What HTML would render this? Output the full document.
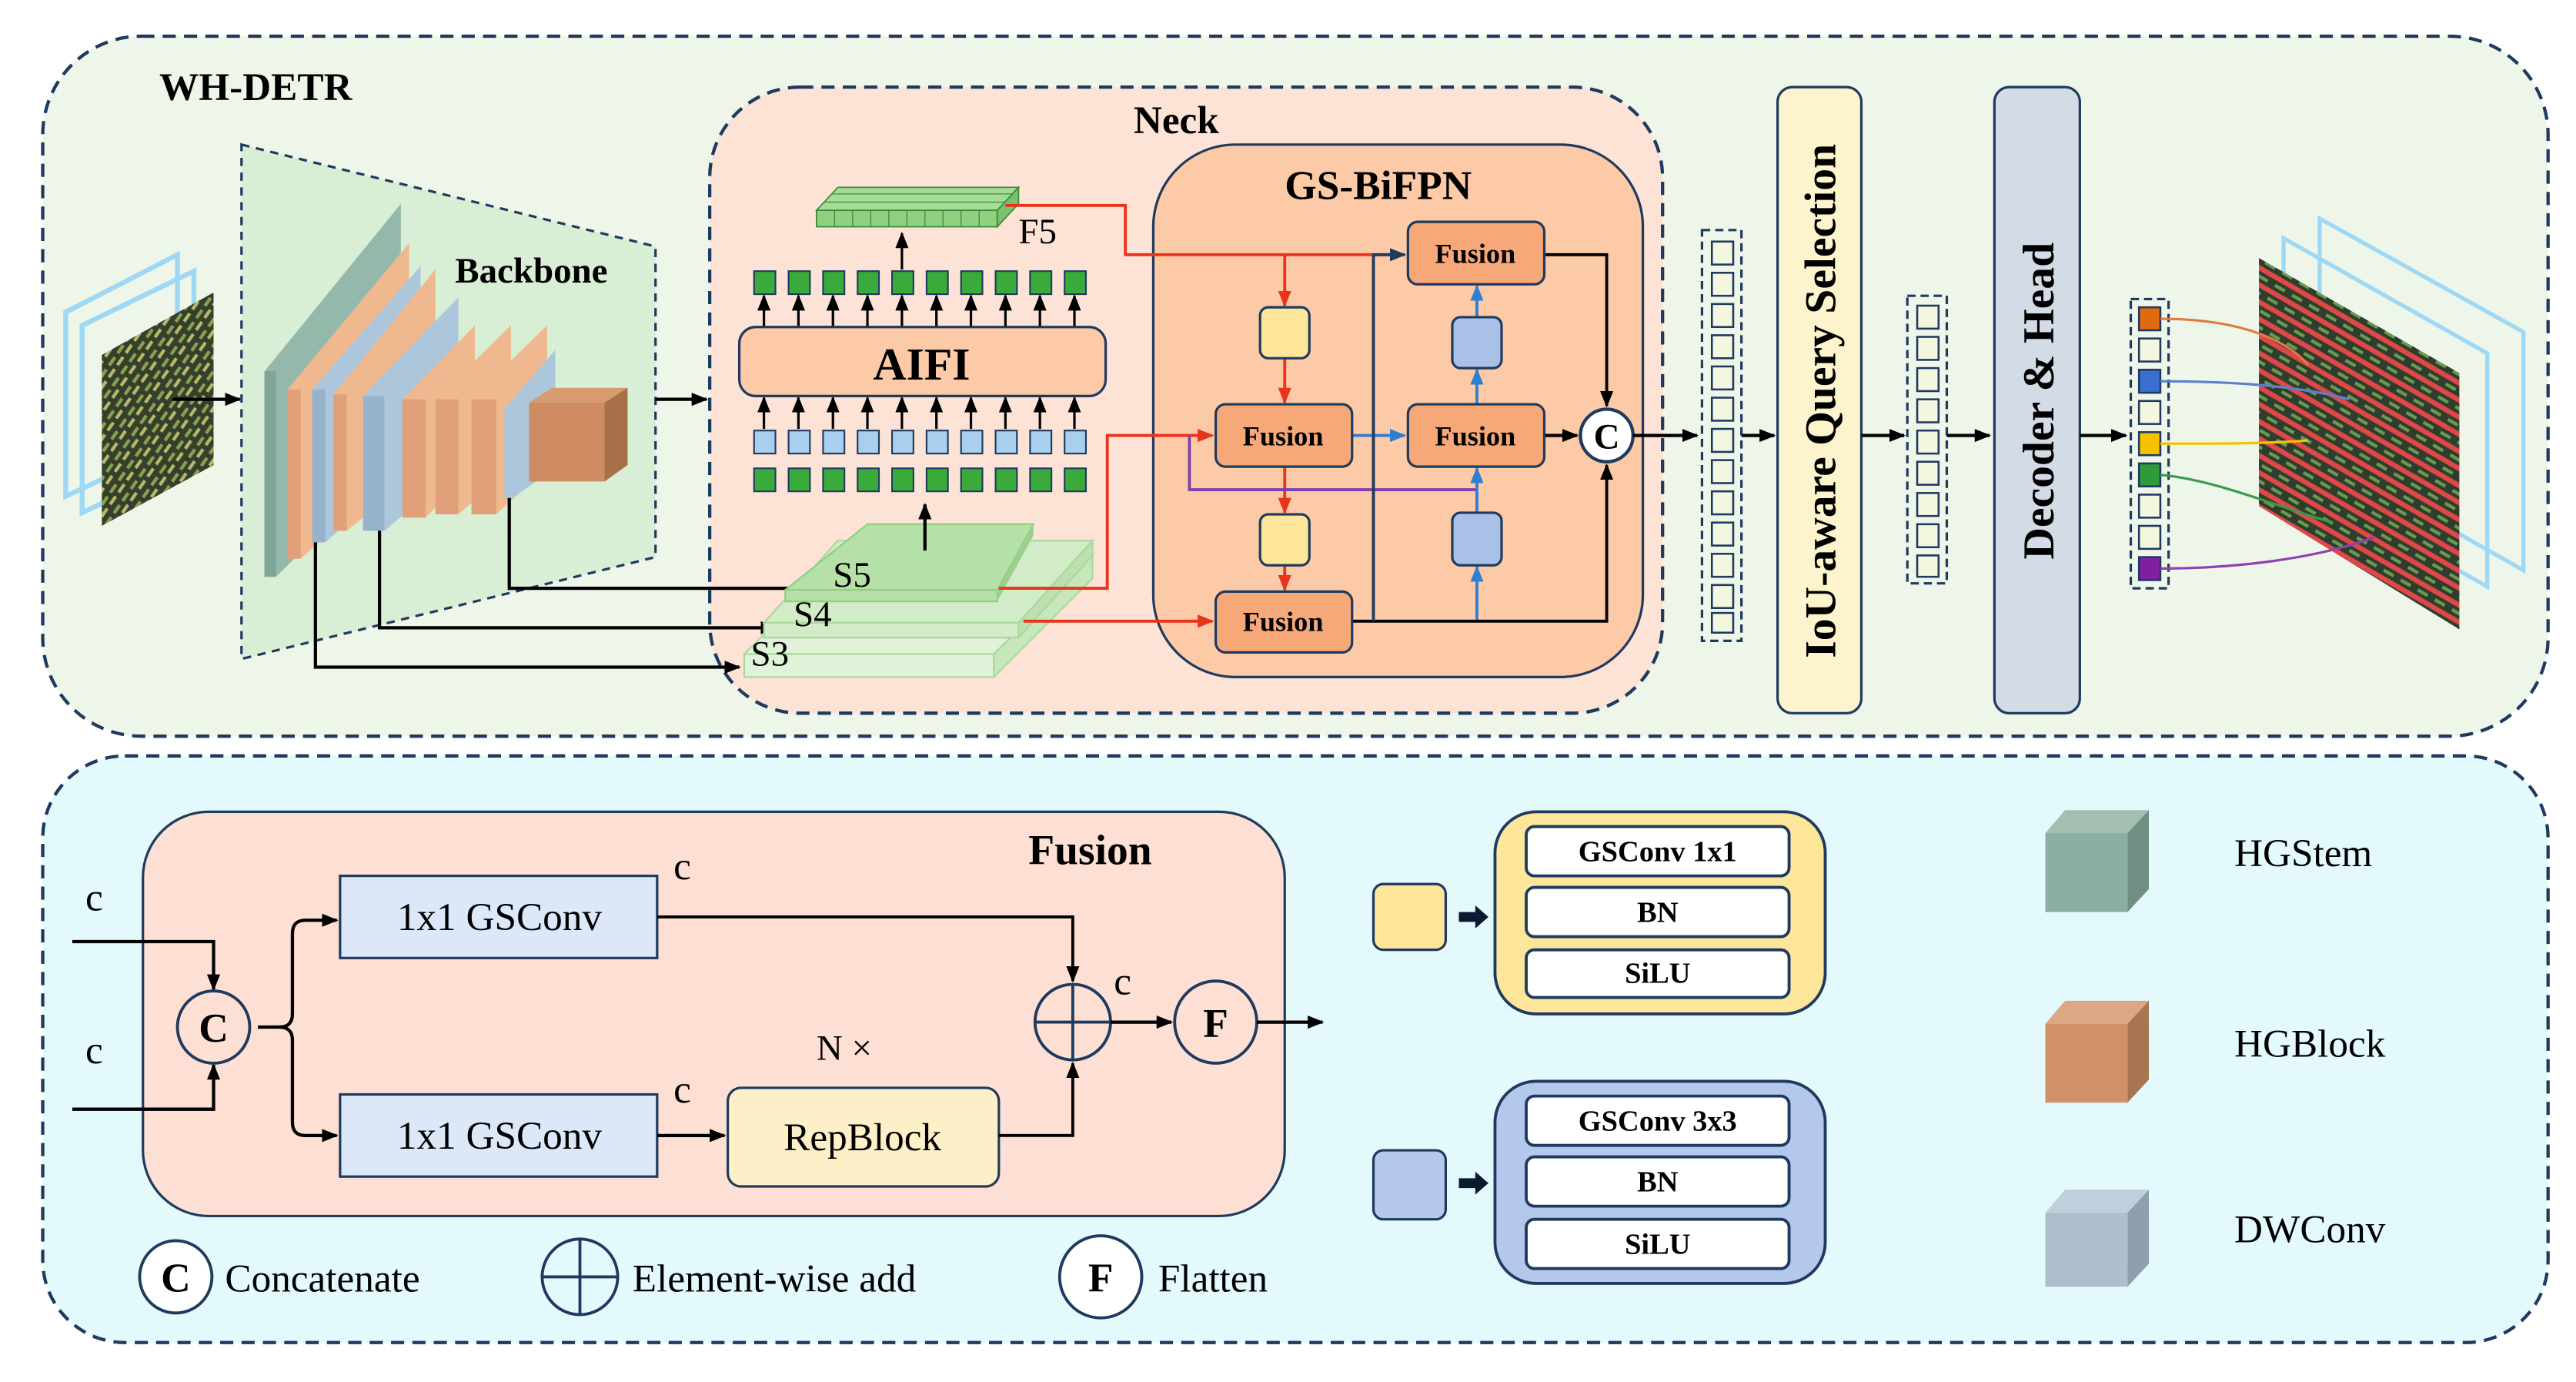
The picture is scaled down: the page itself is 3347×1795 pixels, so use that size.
<!DOCTYPE html>
<html><head><meta charset="utf-8"><style>html,body{margin:0;padding:0;background:#fff}svg{display:block;font-family:"Liberation Serif",serif}svg text{font-family:"Liberation Serif",serif}</style></head>
<body>
<svg width="3347" height="1795" viewBox="0 0 1568 841" preserveAspectRatio="none" xmlns="http://www.w3.org/2000/svg" font-family="Liberation Serif, serif">
<defs>
<marker id="ak" markerUnits="userSpaceOnUse" markerWidth="10" markerHeight="10" refX="9" refY="5" orient="auto"><path d="M0,1 L10,5 L0,9 z" fill="#000"/></marker>
<marker id="ar" markerUnits="userSpaceOnUse" markerWidth="10" markerHeight="10" refX="9" refY="5" orient="auto"><path d="M0,1 L10,5 L0,9 z" fill="#e8341c"/></marker>
<marker id="ab" markerUnits="userSpaceOnUse" markerWidth="10" markerHeight="10" refX="9" refY="5" orient="auto"><path d="M0,1 L10,5 L0,9 z" fill="#2f7fd0"/></marker>
<marker id="an" markerUnits="userSpaceOnUse" markerWidth="10" markerHeight="10" refX="9" refY="5" orient="auto"><path d="M0,1 L10,5 L0,9 z" fill="#1f3a5f"/></marker>
<pattern id="leaf" width="9" height="9" patternUnits="userSpaceOnUse" patternTransform="rotate(-55)"><rect width="9" height="9" fill="#34402c"/><rect y="1" width="6" height="2" fill="#8aa050"/><rect x="3" y="5" width="6" height="2" fill="#b8b868"/></pattern>
<pattern id="red" width="12" height="9" patternUnits="userSpaceOnUse" patternTransform="rotate(30)"><rect width="12" height="9" fill="#2f3d2c"/><rect y="1" width="12" height="3" fill="#e04848"/><rect x="2" y="6" width="7" height="2" fill="#6a9a50"/></pattern>
</defs>

<rect x="26" y="22" width="1525" height="426" rx="60" fill="#eef6ea" stroke="#1f3a5f" stroke-width="2" stroke-dasharray="8 5"/>
<text x="97" y="61" font-size="24" font-weight="bold">WH-DETR</text>

<polygon points="40,190 108,155 108,270 40,302" fill="none" stroke="#9ed8f5" stroke-width="3"/>
<polygon points="50,198 118,165 118,280 50,312" fill="none" stroke="#9ed8f5" stroke-width="3"/>
<polygon points="62,216 130,178 130,283 62,320" fill="url(#leaf)"/>
<line x1="105" y1="243" x2="146" y2="243" stroke="#000" stroke-width="2" marker-end="url(#ak)"/>

<polygon points="147,88 399,150 399,339 147,401" fill="#d8eed5" stroke="#1f3a5f" stroke-width="1.5" stroke-dasharray="5 4"/>
<text x="277" y="172" font-size="22" font-weight="bold">Backbone</text>
<g opacity="0.92">
<polygon points="161,226 244,124 244,276 168,351 161,351" fill="#8fb5a8"/>
<polygon points="175,237 249,148 249,282 183,340 175,340" fill="#f2b48a"/>
<polygon points="190,237 256,162 256,280 198,330 190,330" fill="#a9c4dc"/>
<polygon points="203,240 265,164 265,280 211,323 203,323" fill="#f2b48a"/>
<polygon points="221,241 279,181 279,285 234,323 221,323" fill="#a9c4dc"/>
<polygon points="245,243 289,198 289,285 259,315 245,315" fill="#f2b48a"/>
<polygon points="265,243 311,198 311,285 279,313 265,313" fill="#f2b48a"/>
<polygon points="287,243 333,198 333,285 302,313 287,313" fill="#f2b48a"/>
<polygon points="307,249 338,213 338,285 312,303 307,303" fill="#a9c4dc"/>
</g>
<rect x="161" y="226" width="7" height="125" fill="#7ea596"/>
<rect x="175" y="237" width="8" height="103" fill="#e0a07a"/>
<rect x="190" y="237" width="8" height="93" fill="#97b3cc"/>
<rect x="203" y="240" width="8" height="83" fill="#e0a07a"/>
<rect x="221" y="241" width="13" height="82" fill="#97b3cc"/>
<rect x="245" y="243" width="14" height="72" fill="#e0a07a"/>
<rect x="265" y="243" width="14" height="70" fill="#e0a07a"/>
<rect x="287" y="243" width="15" height="70" fill="#e0a07a"/>
<polygon points="322,245 336,236 382,236 368,245" fill="#d89a70"/>
<polygon points="368,245 382,236 382,283 368,293" fill="#a87048"/>
<rect x="322" y="245" width="46" height="48" fill="#cf8c62"/>
<line x1="399" y1="243" x2="430" y2="243" stroke="#000" stroke-width="2" marker-end="url(#ak)"/>

<rect x="432" y="53" width="580" height="381" rx="55" fill="#fde3d6" stroke="#1f3a5f" stroke-width="2" stroke-dasharray="8 5"/>
<text x="690" y="81" font-size="24" font-weight="bold">Neck</text>
<rect x="702" y="88" width="298" height="324" rx="50" fill="#fccaa6" stroke="#1f3a5f" stroke-width="1.5"/>
<text x="782" y="121" font-size="25" font-weight="bold">GS-BiFPN</text>

<polyline points="310,303 310,358 495,358" fill="none" stroke="#000" stroke-width="2" marker-end="url(#ak)"/>
<polyline points="231,323 231,382 472,382" fill="none" stroke="#000" stroke-width="2" marker-end="url(#ak)"/>
<polyline points="192,330 192,406 450,406" fill="none" stroke="#000" stroke-width="2" marker-end="url(#ak)"/>

<polygon points="453,398 513,338 665,338 605,398" fill="#e0f2d8" stroke="#a8d89a"/>
<rect x="453" y="398" width="152" height="14" fill="#e0f2d8" stroke="#a8d89a"/>
<polygon points="605,398 665,338 665,352 605,412" fill="#c8e6bc" stroke="#a8d89a"/>
<polygon points="465,379 510,329 665,329 620,379" fill="#d2ecc7" stroke="#a8d89a"/>
<rect x="465" y="379" width="155" height="9" fill="#d2ecc7" stroke="#a8d89a"/>
<polygon points="620,379 665,329 665,338 620,388" fill="#bde0b0" stroke="#a8d89a"/>
<polygon points="478,359 528,319 629,319 607,359" fill="#b5e0a8" stroke="#8fcf80"/>
<rect x="478" y="359" width="129" height="7" fill="#b5e0a8" stroke="#8fcf80"/>
<polygon points="607,359 629,319 629,326 607,366" fill="#9ccf8c"/>
<text x="507" y="357" font-size="22">S5</text>
<text x="483" y="381" font-size="22">S4</text>
<text x="457" y="405" font-size="22">S3</text>
<line x1="563" y1="335" x2="563" y2="307" stroke="#000" stroke-width="2" marker-end="url(#ak)"/>

<g stroke="#1f3a5f" stroke-width="1">
<g fill="#3aab3a">
<rect x="459" y="165" width="13" height="14"/><rect x="480" y="165" width="13" height="14"/><rect x="501" y="165" width="13" height="14"/><rect x="522" y="165" width="13" height="14"/><rect x="543" y="165" width="13" height="14"/><rect x="564" y="165" width="13" height="14"/><rect x="585" y="165" width="13" height="14"/><rect x="606" y="165" width="13" height="14"/><rect x="627" y="165" width="13" height="14"/><rect x="648" y="165" width="13" height="14"/>
<rect x="459" y="285" width="13" height="14"/><rect x="480" y="285" width="13" height="14"/><rect x="501" y="285" width="13" height="14"/><rect x="522" y="285" width="13" height="14"/><rect x="543" y="285" width="13" height="14"/><rect x="564" y="285" width="13" height="14"/><rect x="585" y="285" width="13" height="14"/><rect x="606" y="285" width="13" height="14"/><rect x="627" y="285" width="13" height="14"/><rect x="648" y="285" width="13" height="14"/>
</g>
<g fill="#a9cfee">
<rect x="459" y="262" width="13" height="14"/><rect x="480" y="262" width="13" height="14"/><rect x="501" y="262" width="13" height="14"/><rect x="522" y="262" width="13" height="14"/><rect x="543" y="262" width="13" height="14"/><rect x="564" y="262" width="13" height="14"/><rect x="585" y="262" width="13" height="14"/><rect x="606" y="262" width="13" height="14"/><rect x="627" y="262" width="13" height="14"/><rect x="648" y="262" width="13" height="14"/>
</g>
</g>
<g stroke="#000" stroke-width="1.5" marker-end="url(#ak)">
<line x1="465" y1="199" x2="465" y2="180"/><line x1="486" y1="199" x2="486" y2="180"/><line x1="507" y1="199" x2="507" y2="180"/><line x1="528" y1="199" x2="528" y2="180"/><line x1="549" y1="199" x2="549" y2="180"/><line x1="570" y1="199" x2="570" y2="180"/><line x1="591" y1="199" x2="591" y2="180"/><line x1="612" y1="199" x2="612" y2="180"/><line x1="633" y1="199" x2="633" y2="180"/><line x1="654" y1="199" x2="654" y2="180"/>
<line x1="465" y1="261" x2="465" y2="242"/><line x1="486" y1="261" x2="486" y2="242"/><line x1="507" y1="261" x2="507" y2="242"/><line x1="528" y1="261" x2="528" y2="242"/><line x1="549" y1="261" x2="549" y2="242"/><line x1="570" y1="261" x2="570" y2="242"/><line x1="591" y1="261" x2="591" y2="242"/><line x1="612" y1="261" x2="612" y2="242"/><line x1="633" y1="261" x2="633" y2="242"/><line x1="654" y1="261" x2="654" y2="242"/>
<line x1="549" y1="164" x2="549" y2="142"/>
</g>
<rect x="450" y="199" width="223" height="42" rx="10" fill="#fccaa6" stroke="#1f3a5f" stroke-width="1.5"/>
<text x="561" y="231" font-size="28" font-weight="bold" text-anchor="middle">AIFI</text>

<polygon points="497,128 510,114 620,114 607,128" fill="#a6dc98" stroke="#3a8a3a" stroke-width="0.8"/>
<rect x="497" y="128" width="110" height="10" fill="#8fd17f" stroke="#3a8a3a" stroke-width="0.8"/>
<polygon points="607,128 620,114 620,124 607,138" fill="#7cbf6c" stroke="#3a8a3a" stroke-width="0.8"/>
<g stroke="#3a8a3a" stroke-width="0.6"><line x1="508" y1="128" x2="508" y2="138"/><line x1="519" y1="128" x2="519" y2="138"/><line x1="530" y1="128" x2="530" y2="138"/><line x1="541" y1="128" x2="541" y2="138"/><line x1="552" y1="128" x2="552" y2="138"/><line x1="563" y1="128" x2="563" y2="138"/><line x1="574" y1="128" x2="574" y2="138"/><line x1="585" y1="128" x2="585" y2="138"/><line x1="596" y1="128" x2="596" y2="138"/><line x1="502" y1="123" x2="612" y2="123"/><line x1="506" y1="118" x2="616" y2="118"/></g>
<text x="620" y="148" font-size="22">F5</text>

<polyline points="612,125 685,125 685,155 855,155" fill="none" stroke="#e8341c" stroke-width="1.8" marker-end="url(#ar)"/>
<line x1="782" y1="155" x2="782" y2="186" stroke="#e8341c" stroke-width="1.8" marker-end="url(#ar)"/>
<polyline points="608,358 674,358 674,265 738,265" fill="none" stroke="#e8341c" stroke-width="1.8" marker-end="url(#ar)"/>
<line x1="623" y1="378" x2="738" y2="378" stroke="#e8341c" stroke-width="1.8" marker-end="url(#ar)"/>
<line x1="782" y1="218" x2="782" y2="245" stroke="#e8341c" stroke-width="1.8" marker-end="url(#ar)"/>
<line x1="782" y1="284" x2="782" y2="312" stroke="#e8341c" stroke-width="1.8" marker-end="url(#ar)"/>
<line x1="782" y1="344" x2="782" y2="359" stroke="#e8341c" stroke-width="1.8" marker-end="url(#ar)"/>
<polyline points="724,265 724,298 899,298" fill="none" stroke="#8040b0" stroke-width="1.8"/>
<line x1="823" y1="265" x2="855" y2="265" stroke="#2f7fd0" stroke-width="1.8" marker-end="url(#ab)"/>
<line x1="899" y1="378" x2="899" y2="345" stroke="#2f7fd0" stroke-width="1.8" marker-end="url(#ab)"/>
<line x1="899" y1="312" x2="899" y2="285" stroke="#2f7fd0" stroke-width="1.8" marker-end="url(#ab)"/>
<line x1="899" y1="246" x2="899" y2="225" stroke="#2f7fd0" stroke-width="1.8" marker-end="url(#ab)"/>
<line x1="899" y1="193" x2="899" y2="174" stroke="#2f7fd0" stroke-width="1.8" marker-end="url(#ab)"/>
<polyline points="823,378 978,378 978,283" fill="none" stroke="#000" stroke-width="1.8" marker-end="url(#ak)"/>
<polyline points="836,378 836,155 855,155" fill="none" stroke="#1f3a5f" stroke-width="1.8" marker-end="url(#an)"/>
<polyline points="940,155 978,155 978,247" fill="none" stroke="#000" stroke-width="1.8" marker-end="url(#ak)"/>
<line x1="940" y1="265" x2="960" y2="265" stroke="#000" stroke-width="2" marker-end="url(#ak)"/>

<g stroke="#1f3a5f" stroke-width="1.5">
<rect x="767" y="187" width="30" height="31" rx="5" fill="#fde59a"/>
<rect x="767" y="313" width="30" height="31" rx="5" fill="#fde59a"/>
<rect x="884" y="193" width="30" height="31" rx="5" fill="#a9c1e6"/>
<rect x="884" y="312" width="30" height="32" rx="5" fill="#a9c1e6"/>
<rect x="740" y="246" width="83" height="38" rx="6" fill="#f6a878"/>
<rect x="740" y="360" width="83" height="37" rx="6" fill="#f6a878"/>
<rect x="857" y="246" width="83" height="38" rx="6" fill="#f6a878"/>
<rect x="857" y="135" width="83" height="38" rx="6" fill="#f6a878"/>
</g>
<g font-size="17" font-weight="bold" text-anchor="middle">
<text x="781" y="271">Fusion</text><text x="781" y="384">Fusion</text><text x="898" y="271">Fusion</text><text x="898" y="160">Fusion</text>
</g>
<circle cx="978" cy="265" r="16" fill="#fff" stroke="#1f3a5f" stroke-width="2"/>
<text x="978" y="273" font-size="22" font-weight="bold" text-anchor="middle">C</text>
<line x1="994" y1="265" x2="1033" y2="265" stroke="#000" stroke-width="2" marker-end="url(#ak)"/>

<rect x="1036" y="140" width="24" height="250" fill="none" stroke="#1f3a5f" stroke-width="1.5" stroke-dasharray="5 3"/>
<g fill="#f3f7e0" stroke="#1f3a5f" stroke-width="1.2">
<rect x="1042" y="147" width="13" height="14"/><rect x="1042" y="166" width="13" height="14"/><rect x="1042" y="185" width="13" height="14"/><rect x="1042" y="204" width="13" height="14"/><rect x="1042" y="223" width="13" height="14"/><rect x="1042" y="242" width="13" height="14"/><rect x="1042" y="261" width="13" height="14"/><rect x="1042" y="280" width="13" height="14"/><rect x="1042" y="299" width="13" height="14"/><rect x="1042" y="318" width="13" height="14"/><rect x="1042" y="337" width="13" height="14"/><rect x="1042" y="356" width="13" height="14"/><rect x="1042" y="373" width="13" height="12"/>
</g>
<line x1="1060" y1="265" x2="1080" y2="265" stroke="#000" stroke-width="2" marker-end="url(#ak)"/>
<rect x="1082" y="53" width="51" height="381" rx="9" fill="#fdf3cc" stroke="#1f3a5f" stroke-width="1.5"/>
<text transform="translate(1117,244) rotate(-90)" font-size="27" font-weight="bold" text-anchor="middle">IoU-aware Query Selection</text>
<line x1="1133" y1="265" x2="1159" y2="265" stroke="#000" stroke-width="2" marker-end="url(#ak)"/>
<rect x="1161" y="180" width="24" height="175" fill="none" stroke="#1f3a5f" stroke-width="1.5" stroke-dasharray="5 3"/>
<g fill="#f3f7e0" stroke="#1f3a5f" stroke-width="1.2">
<rect x="1167" y="186" width="13" height="14"/><rect x="1167" y="205" width="13" height="14"/><rect x="1167" y="224" width="13" height="14"/><rect x="1167" y="243" width="13" height="14"/><rect x="1167" y="262" width="13" height="14"/><rect x="1167" y="281" width="13" height="14"/><rect x="1167" y="300" width="13" height="14"/><rect x="1167" y="319" width="13" height="14"/><rect x="1167" y="338" width="13" height="13"/>
</g>
<line x1="1185" y1="265" x2="1211" y2="265" stroke="#000" stroke-width="2" marker-end="url(#ak)"/>
<rect x="1214" y="53" width="52" height="381" rx="9" fill="#d3dbe6" stroke="#1f3a5f" stroke-width="1.5"/>
<text transform="translate(1250,244) rotate(-90)" font-size="27" font-weight="bold" text-anchor="middle">Decoder &amp; Head</text>
<line x1="1266" y1="265" x2="1294" y2="265" stroke="#000" stroke-width="2" marker-end="url(#ak)"/>
<rect x="1297" y="182" width="23" height="176" fill="none" stroke="#1f3a5f" stroke-width="1.5" stroke-dasharray="5 3"/>
<g stroke="#1f3a5f" stroke-width="1.2">
<rect x="1302" y="187" width="13" height="14" fill="#e06a10"/><rect x="1302" y="206" width="13" height="14" fill="#f3f7e0"/><rect x="1302" y="225" width="13" height="14" fill="#3a6fd0"/><rect x="1302" y="244" width="13" height="14" fill="#f3f7e0"/><rect x="1302" y="263" width="13" height="14" fill="#f5c200"/><rect x="1302" y="282" width="13" height="14" fill="#2e9a3a"/><rect x="1302" y="301" width="13" height="14" fill="#f3f7e0"/><rect x="1302" y="320" width="13" height="14" fill="#f3f7e0"/><rect x="1302" y="339" width="13" height="14" fill="#8020a0"/>
</g>
<polygon points="1412,133 1536,202 1536,347 1412,277" fill="none" stroke="#9ed8f5" stroke-width="2.5"/>
<polygon points="1390,145 1514,215 1514,357 1390,287" fill="none" stroke="#9ed8f5" stroke-width="2.5"/>
<polygon points="1375,157 1497,227 1497,383 1375,308" fill="url(#red)"/>
<g fill="none" stroke-width="1.5">
<path d="M1315,194 C1360,194 1390,205 1405,222" stroke="#e07a40"/>
<path d="M1315,232 C1360,232 1400,235 1430,243" stroke="#5a80d0"/>
<path d="M1315,270 C1350,270 1380,270 1405,268" stroke="#f5c200"/>
<path d="M1315,289 C1350,292 1390,310 1420,318" stroke="#3a9a4a"/>
<path d="M1315,346 C1360,346 1410,340 1445,327" stroke="#9040b0"/>
</g>

<rect x="26" y="460" width="1525" height="357" rx="50" fill="#e3f9fc" stroke="#1f3a5f" stroke-width="2" stroke-dasharray="8 5"/>
<rect x="87" y="494" width="695" height="246" rx="40" fill="#fde0d3" stroke="#1f3a5f" stroke-width="1.5"/>
<text x="626" y="526" font-size="26" font-weight="bold">Fusion</text>
<g font-size="24">
<text x="52" y="554">c</text><text x="52" y="647">c</text><text x="410" y="535">c</text><text x="410" y="671">c</text><text x="678" y="605">c</text>
</g>
<polyline points="44,573 130,573 130,602" fill="none" stroke="#000" stroke-width="2" marker-end="url(#ak)"/>
<polyline points="44,675 130,675 130,648" fill="none" stroke="#000" stroke-width="2" marker-end="url(#ak)"/>
<circle cx="130" cy="625" r="22" fill="none" stroke="#1f3a5f" stroke-width="1.8"/>
<text x="130" y="634" font-size="25" font-weight="bold" text-anchor="middle">C</text>
<path d="M157,625 L170,625 Q178,625 178,617 L178,568 Q178,560 186,560 L205,560" fill="none" stroke="#000" stroke-width="2" marker-end="url(#ak)"/>
<path d="M170,625 Q178,625 178,633 L178,683 Q178,691 186,691 L205,691" fill="none" stroke="#000" stroke-width="2" marker-end="url(#ak)"/>
<rect x="207" y="533" width="193" height="50" fill="#dce8f8" stroke="#1f3a5f" stroke-width="1.5"/>
<rect x="207" y="666" width="193" height="50" fill="#dce8f8" stroke="#1f3a5f" stroke-width="1.5"/>
<text x="304" y="566" font-size="24" text-anchor="middle">1x1 GSConv</text>
<text x="304" y="699" font-size="24" text-anchor="middle">1x1 GSConv</text>
<polyline points="400,558 653,558 653,597" fill="none" stroke="#000" stroke-width="1.8" marker-end="url(#ak)"/>
<line x1="400" y1="691" x2="441" y2="691" stroke="#000" stroke-width="2" marker-end="url(#ak)"/>
<rect x="443" y="662" width="165" height="60" rx="8" fill="#fdf0c8" stroke="#1f3a5f" stroke-width="1.5"/>
<text x="525" y="700" font-size="24" text-anchor="middle">RepBlock</text>
<text x="497" y="645" font-size="22">N ×</text>
<polyline points="608,691 653,691 653,647" fill="none" stroke="#000" stroke-width="1.8" marker-end="url(#ak)"/>
<circle cx="653" cy="622" r="23" fill="none" stroke="#1f3a5f" stroke-width="1.8"/>
<line x1="630" y1="622" x2="676" y2="622" stroke="#1f3a5f" stroke-width="1.8"/><line x1="653" y1="599" x2="653" y2="645" stroke="#1f3a5f" stroke-width="1.8"/>
<line x1="676" y1="622" x2="713" y2="622" stroke="#000" stroke-width="2" marker-end="url(#ak)"/>
<circle cx="740" cy="622" r="25" fill="none" stroke="#1f3a5f" stroke-width="1.8"/>
<text x="740" y="631" font-size="25" font-weight="bold" text-anchor="middle">F</text>
<line x1="765" y1="622" x2="805" y2="622" stroke="#000" stroke-width="2" marker-end="url(#ak)"/>

<circle cx="107" cy="777" r="22" fill="#fff" stroke="#1f3a5f" stroke-width="1.8"/>
<text x="107" y="786" font-size="25" font-weight="bold" text-anchor="middle">C</text>
<text x="137" y="786" font-size="24">Concatenate</text>
<circle cx="353" cy="777" r="23" fill="none" stroke="#1f3a5f" stroke-width="1.8"/>
<line x1="330" y1="777" x2="376" y2="777" stroke="#1f3a5f" stroke-width="1.8"/><line x1="353" y1="754" x2="353" y2="800" stroke="#1f3a5f" stroke-width="1.8"/>
<text x="385" y="786" font-size="24">Element-wise add</text>
<circle cx="670" cy="777" r="25" fill="#fff" stroke="#1f3a5f" stroke-width="1.8"/>
<text x="670" y="786" font-size="25" font-weight="bold" text-anchor="middle">F</text>
<text x="705" y="786" font-size="24">Flatten</text>

<rect x="836" y="538" width="44" height="40" rx="6" fill="#fde59a" stroke="#1f3a5f" stroke-width="1.5"/>
<path d="M888,555 L898,555 L898,551 L906,558 L898,565 L898,561 L888,561 z" fill="#0a1a30"/>
<rect x="910" y="494" width="201" height="123" rx="25" fill="#fde59a" stroke="#1f3a5f" stroke-width="1.8"/>
<rect x="836" y="700" width="44" height="42" rx="6" fill="#b3c8ea" stroke="#1f3a5f" stroke-width="1.5"/>
<path d="M888,717 L898,717 L898,713 L906,720 L898,727 L898,723 L888,723 z" fill="#0a1a30"/>
<rect x="910" y="658" width="201" height="123" rx="25" fill="#b3c8ea" stroke="#1f3a5f" stroke-width="1.8"/>
<g fill="#fff" stroke="#1f3a5f" stroke-width="1.8">
<rect x="929" y="503" width="160" height="30" rx="5"/><rect x="929" y="540" width="160" height="30" rx="5"/><rect x="929" y="578" width="160" height="29" rx="5"/>
<rect x="929" y="667" width="160" height="30" rx="5"/><rect x="929" y="704" width="160" height="30" rx="5"/><rect x="929" y="742" width="160" height="30" rx="5"/>
</g>
<g font-size="18" font-weight="bold" text-anchor="middle">
<text x="1009" y="524">GSConv 1x1</text><text x="1009" y="561">BN</text><text x="1009" y="598">SiLU</text>
<text x="1009" y="688">GSConv 3x3</text><text x="1009" y="725">BN</text><text x="1009" y="763">SiLU</text>
</g>

<polygon points="1245,507 1257,493 1308,493 1295,507" fill="#a2bfb2"/>
<rect x="1245" y="507" width="50" height="48" fill="#8aaea0"/>
<polygon points="1295,507 1308,493 1308,541 1295,555" fill="#6f8f82"/>
<polygon points="1245,623 1257,609 1308,609 1295,623" fill="#dca883"/>
<rect x="1245" y="623" width="50" height="48" fill="#d09068"/>
<polygon points="1295,623 1308,609 1308,657 1295,671" fill="#a87552"/>
<polygon points="1245,738 1257,724 1308,724 1295,738" fill="#bfd0db"/>
<rect x="1245" y="738" width="50" height="45" fill="#adbfcd"/>
<polygon points="1295,738 1308,724 1308,769 1295,783" fill="#8ea0ae"/>
<g font-size="24"><text x="1360" y="527">HGStem</text><text x="1360" y="643">HGBlock</text><text x="1360" y="756">DWConv</text></g>
</svg>
</body></html>
